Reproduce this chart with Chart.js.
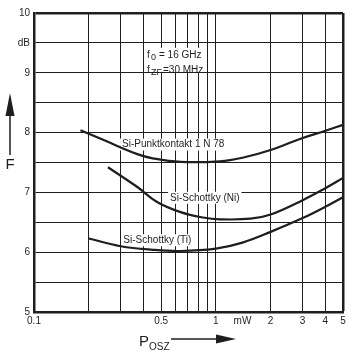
<!DOCTYPE html>
<html>
<head>
<meta charset="utf-8">
<script src="https://cdn.jsdelivr.net/npm/chart.js@4/dist/chart.umd.min.js"></script>
<style>
  body { margin: 0; background: #fff; }
</style>
</head>
<body>
<canvas id="chart" width="353" height="356"></canvas>
<script>
// oscillator power (mW) and noise figure (dB)
const punktP = [0.18, 0.24, 0.37, 0.45, 0.64, 1.05, 1.4, 2, 3, 4, 5]
const punktF = [8.04, 7.88, 7.64, 7.57, 7.51, 7.52, 7.58, 7.71, 7.91, 8.03, 8.13]
const niP = [0.255, 0.37, 0.475, 0.64, 0.85, 1.05, 1.55, 2, 3, 4, 5]
const niF = [7.42, 7.09, 6.84, 6.67, 6.58, 6.55, 6.56, 6.63, 6.87, 7.07, 7.24]
const tiP = [0.2, 0.3, 0.45, 0.64, 1, 1.4, 2, 3, 4, 5]
const tiF = [6.23, 6.1, 6.04, 6.02, 6.06, 6.16, 6.34, 6.57, 6.76, 6.92]

// x grid positions and the ones that get a label
const xTicks = [0.1, 0.2, 0.3, 0.4, 0.5, 0.6, 0.7, 0.8, 0.9, 1, 1.4, 2, 3, 4, 5]
const xLabels = { 0.1: "0.1", 0.5: "0.5", 1: "1", 1.4: "mW", 2: "2", 3: "3", 4: "4", 5: "5" }
const yLabels = { 5: "5", 6: "6", 7: "7", 8: "8", 9: "9", 9.5: "dB", 10: "10" }

// curve names and where their text sits (data coords)
const curveNames = ["Si-Punktkontakt 1 N 78", "Si-Schottky (Ni)", "Si-Schottky (Ti)"]
const namePos = [[0.305, 7.8], [0.56, 6.91], [0.31, 6.2]]

const ink = "#1e1e1e"
const font = '"Liberation Sans", Arial, sans-serif'

const toPts = (xs, ys) => xs.map((x, i) => ({ x: x, y: ys[i] }))

const lineSet = (xs, ys) => ({
  data: toPts(xs, ys),
  borderColor: ink,
  borderWidth: 2.2,
  pointRadius: 0,
  fill: false,
  tension: 0.4,
})

// texts inside the plot, under the curves
const labels = {
  id: "labels",
  beforeDatasetsDraw(chart) {
    const ctx = chart.ctx
    const xs = chart.scales.x
    const ys = chart.scales.y
    ctx.save()
    ctx.textBaseline = "middle"
    ctx.textAlign = "left"

    // label with a white patch behind it
    const label = (txt, px, py) => {
      ctx.font = "10px " + font
      const w = ctx.measureText(txt).width
      ctx.fillStyle = "#fff"
      ctx.fillRect(px - 2, py - 6, w + 4, 12)
      ctx.fillStyle = ink
      ctx.fillText(txt, px, py)
    }
    curveNames.forEach((n, i) => {
      label(n, xs.getPixelForValue(namePos[i][0]), ys.getPixelForValue(namePos[i][1]))
    })

    // frequency block
    const fx = xs.getPixelForValue(0.418)
    const f1 = ys.getPixelForValue(9.3)
    const f2 = ys.getPixelForValue(9.05)
    ctx.fillStyle = "#fff"
    ctx.fillRect(fx - 2, f1 - 7, 60, 24)
    ctx.fillStyle = ink
    ctx.font = "10px " + font
    ctx.fillText("f", fx, f1)
    ctx.fillText("f", fx, f2)
    ctx.font = "9px " + font
    ctx.fillText("0", fx + 4, f1 + 3)
    ctx.fillText("ZF", fx + 4, f2 + 3)
    ctx.font = "10px " + font
    ctx.fillText("= 16 GHz", fx + 12, f1)
    ctx.fillText("=30 MHz", fx + 16, f2)
    ctx.restore()
  },
}

// axis names with their arrows
const axisNames = {
  id: "axisNames",
  afterDraw(chart) {
    const ctx = chart.ctx
    ctx.save()
    ctx.fillStyle = ink
    ctx.strokeStyle = ink
    ctx.lineWidth = 1.5
    ctx.textBaseline = "middle"

    ctx.beginPath()
    ctx.moveTo(10, 155)
    ctx.lineTo(10, 110)
    ctx.stroke()
    ctx.beginPath()
    ctx.moveTo(10, 93)
    ctx.lineTo(14.5, 116)
    ctx.lineTo(5.5, 116)
    ctx.closePath()
    ctx.fill()
    ctx.font = "15px " + font
    ctx.textAlign = "center"
    ctx.fillText("F", 10, 165)

    ctx.textAlign = "left"
    ctx.font = "15px " + font
    ctx.fillText("P", 139, 342)
    ctx.font = "10px " + font
    ctx.fillText("OSZ", 149, 347)
    ctx.beginPath()
    ctx.moveTo(171, 339)
    ctx.lineTo(222, 339)
    ctx.stroke()
    ctx.beginPath()
    ctx.moveTo(236, 339)
    ctx.lineTo(216, 334.5)
    ctx.lineTo(216, 343.5)
    ctx.closePath()
    ctx.fill()
    ctx.restore()
  },
}

new Chart(document.getElementById("chart"), {
  type: "line",
  data: {
    datasets: [lineSet(punktP, punktF), lineSet(niP, niF), lineSet(tiP, tiF)],
  },
  plugins: [labels, axisNames],
  options: {
    responsive: false,
    animation: false,
    layout: { padding: { left: 0, top: 13, right: 10, bottom: 0 } },
    plugins: { legend: { display: false }, tooltip: { enabled: false } },
    scales: {
      x: {
        type: "logarithmic",
        min: 0.1,
        max: 5,
        afterBuildTicks: (scale) => {
          scale.ticks = xTicks.map((v) => ({ value: v }))
        },
        afterFit: (scale) => { scale.height = 44 },
        ticks: {
          autoSkip: false,
          maxRotation: 0,
          padding: 3,
          color: ink,
          font: { family: font, size: 10 },
          callback: (v) => xLabels[v] || "",
        },
        grid: {
          drawTicks: false,
          color: (c) => (c.tick && c.tick.value === 1.4 ? "rgba(0,0,0,0)" : ink),
          lineWidth: (c) => (c.tick && c.tick.value === 5 ? 2.5 : 1),
        },
        border: { color: ink, width: 2.5 },
      },
      y: {
        min: 5,
        max: 10,
        afterFit: (scale) => { scale.width = 34 },
        ticks: {
          stepSize: 0.5,
          padding: 4,
          color: ink,
          font: { family: font, size: 10 },
          callback: (v) => yLabels[v] || "",
        },
        grid: {
          drawTicks: false,
          color: ink,
          lineWidth: (c) => (c.tick && c.tick.value === 10 ? 2.5 : 1),
        },
        border: { color: ink, width: 2.5 },
      },
    },
  },
})
</script>
</body>
</html>
